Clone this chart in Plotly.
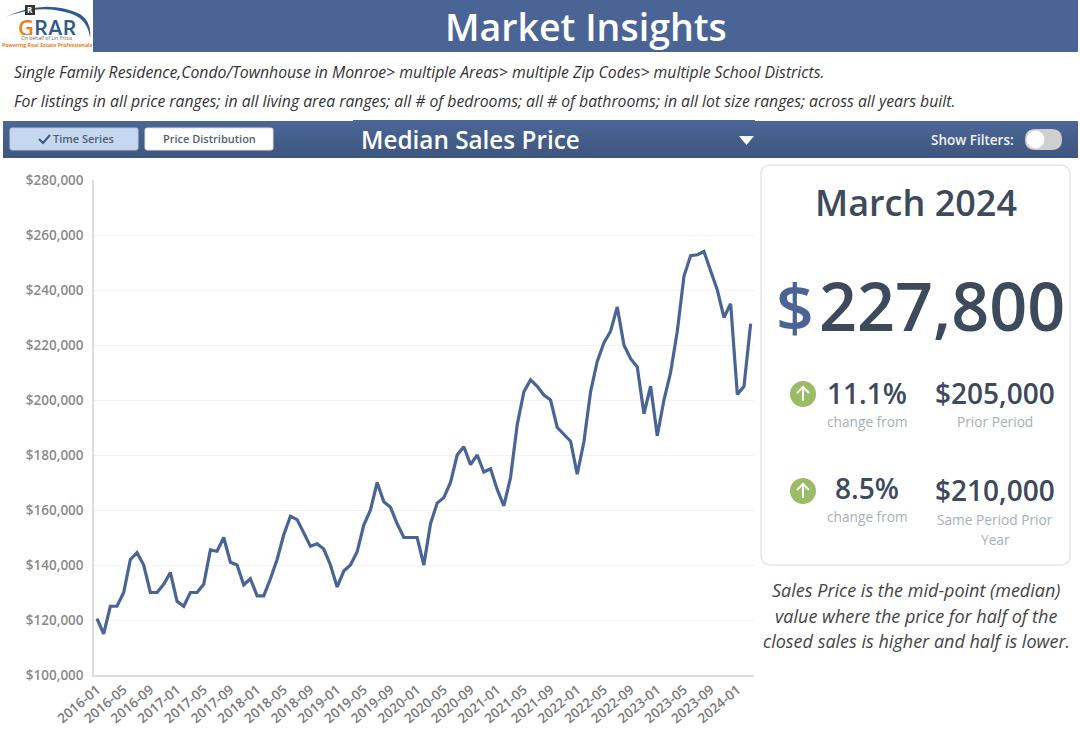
import plotly.graph_objects as go

W, H = 1080, 740

# ---------- data ----------
years_months = [f"{y}-{m:02d}" for y in range(2016, 2025) for m in range(1, 13)][:99]
median_price = [
    120500, 115000, 125000, 125000, 130000, 142000, 144500, 140000, 130000, 130000, 133000, 137300,
    126800, 125000, 130000, 130000, 133000, 145500, 145000, 150000, 141000, 140000, 132800, 135000,
    128800, 128800, 135000, 142000, 151000, 157700, 156500, 151800, 146800, 147700, 145800, 140000,
    132000, 137800, 140000, 144800, 154500, 160000, 170000, 163000, 161000, 155000, 150000, 150000,
    150000, 140000, 155000, 162500, 164500, 170000, 180000, 183000, 176500, 180000, 173800, 175000,
    167500, 161500, 171800, 191000, 203000, 207300, 205000, 201800, 200000, 190000, 187500, 185000,
    173000, 184800, 203000, 214000, 220800, 225000, 233800, 220000, 215000, 212000, 195000, 205000,
    187000, 200000, 210000, 225000, 245000, 252500, 252800, 254000, 247000, 240000, 230000, 235000,
    202000, 205000, 227800,
]
x_ticks = years_months[::4]
y_ticks = list(range(100000, 280001, 20000))

title_text = "Market Insights"
subtitle_1 = "Single Family Residence,Condo/Townhouse in Monroe> multiple Areas> multiple Zip Codes> multiple School Districts."
subtitle_2 = "For listings in all price ranges; in all living area ranges; all # of bedrooms; all # of bathrooms; in all lot size ranges; across all years built."
note_lines = ["Sales Price is the mid-point (median)", "value where the price for half of the", "closed sales is higher and half is lower."]

# ---------- style ----------
FONT = "Open Sans"
BLUE = "#4a6595"
DARK = "#3c4a5b"
GREY = "#a8afb8"
GREEN = "#9bbb66"


def X(p):
    return p / W


def Y(p):
    return 1 - p / H


shapes, anns = [], []


def rect(x0, y0, x1, y1, fill, line=None):
    shapes.append(dict(type="rect", xref="paper", yref="paper", x0=X(x0), x1=X(x1), y0=Y(y1), y1=Y(y0),
                       fillcolor=fill, line=dict(width=1 if line else 0, color=line or fill), layer="below"))


def rrect(x0, y0, x1, y1, r, fill, line=None, lw=1):
    path = (f"M {X(x0+r)} {Y(y0)} L {X(x1-r)} {Y(y0)} Q {X(x1)} {Y(y0)} {X(x1)} {Y(y0+r)} "
            f"L {X(x1)} {Y(y1-r)} Q {X(x1)} {Y(y1)} {X(x1-r)} {Y(y1)} "
            f"L {X(x0+r)} {Y(y1)} Q {X(x0)} {Y(y1)} {X(x0)} {Y(y1-r)} "
            f"L {X(x0)} {Y(y0+r)} Q {X(x0)} {Y(y0)} {X(x0+r)} {Y(y0)} Z")
    shapes.append(dict(type="path", xref="paper", yref="paper", path=path, fillcolor=fill,
                       line=dict(width=lw if line else 0, color=line or fill), layer="below"))


def poly(points, fill=None, line=None, lw=1, closed=False):
    path = "M " + " L ".join(f"{X(a)} {Y(b)}" for a, b in points) + (" Z" if closed else "")
    shapes.append(dict(type="path", xref="paper", yref="paper", path=path,
                       fillcolor=fill or "rgba(0,0,0,0)",
                       line=dict(width=lw if line else 0, color=line or "rgba(0,0,0,0)"), layer="above"))


def circle(cx, cy, r, fill):
    shapes.append(dict(type="circle", xref="paper", yref="paper", x0=X(cx - r), x1=X(cx + r),
                       y0=Y(cy + r), y1=Y(cy - r), fillcolor=fill, line=dict(width=0), layer="above"))


def text(x, y, s, size, color, anchor="center", style="normal", weight=400, height=None):
    a = dict(xref="paper", yref="paper", x=X(x), y=Y(y), text=s, showarrow=False,
             xanchor=anchor, yanchor="middle", align=anchor,
             font=dict(family=FONT, size=size, color=color, style=style, weight=weight))
    if height:
        a["height"] = height
    anns.append(a)


def gradient(x0, y0, x1, y1, top, bottom):
    n = y1 - y0
    for i in range(n):
        t = i / max(n - 1, 1)
        c = [round(a + (b - a) * t) for a, b in zip(top, bottom)]
        rect(x0, y0 + i, x1, y0 + i + 1, f"rgb({c[0]},{c[1]},{c[2]})")


# ---------- header ----------
rect(93, 0, 1078, 52, BLUE)
text(585.5, 26.5, title_text, 37.5, "#ffffff", weight=600)

# logo
shapes.append(dict(type="path", xref="paper", yref="paper",
                   path=f"M {X(6)} {Y(17)} Q {X(45)} {Y(-2)} {X(80)} {Y(14)} Q {X(92)} {Y(22)} {X(90)} {Y(38)} "
                        f"Q {X(88)} {Y(20)} {X(72)} {Y(14)} Q {X(40)} {Y(3)} {X(6)} {Y(17)} Z",
                   fillcolor="#2f5a8c", line=dict(width=0), layer="above"))
poly([(25, 5), (35, 5), (35, 15), (25, 15)], fill="#333333", closed=True)
text(30, 10, "R", 8, "#ffffff", weight=700, height=9)
text(47.5, 26.5, "<span style='color:#e8801f'>G</span>RAR", 22, "#2f5a8c", weight=600, height=16)
text(47, 38, "On behalf of Lin.Yrtsis", 5, "#666666", height=6)
text(47.5, 45, "Powering Real Estate Professionals", 5.2, "#e8801f", weight=700, height=6)

# subtitle lines
text(12, 72, subtitle_1, 15.77, "#333333", anchor="left", style="italic")
text(12, 101, subtitle_2, 15.77, "#333333", anchor="left", style="italic")

# ---------- toolbar ----------
gradient(3, 121, 1078, 158, (75, 103, 151), (62, 85, 126))
gradient(353, 120, 755, 158, (75, 103, 151), (62, 85, 126))
rrect(10, 128, 138, 150, 2, "#c5d8ef", line="#b9c7da")
rrect(145, 128, 273, 150, 2, "#ffffff", line="#e0e0e0")
poly([(39, 139), (43, 143), (50, 135)], line="#3f5680", lw=2)
text(83, 139, "Time Series", 11, "#4f5f75", weight=600)
text(209, 139, "Price Distribution", 11, "#4f5f75", weight=600)
text(359, 139.5, "Median Sales Price", 24.3, "#ffffff", anchor="left", weight=600)
poly([(739, 136), (754, 136), (746.5, 145)], fill="#ffffff", closed=True)
text(972.5, 140, "Show Filters:", 13.5, "#f2f2f2", weight=600)
rrect(1025, 129, 1062, 150, 10.5, "#cfcfcf")
circle(1035.5, 139.5, 9, "#ffffff")

# ---------- KPI card ----------
rrect(761, 165, 1070, 565, 10, "#ffffff", line="#e6e6e6", lw=1.5)
text(916, 203, "March 2024", 36, DARK, weight=600)
text(795, 305, "$", 66, BLUE, weight=600)
text(941.5, 305, "227,800", 66.5, DARK, weight=600)

circle(803, 394, 13, GREEN)
poly([(803, 401), (803, 387)], line="#ffffff", lw=2)
poly([(797, 393), (803, 387), (809, 393)], line="#ffffff", lw=2)
text(867, 393, "11.1%", 28, DARK, weight=600)
text(867, 422, "change from", 13.7, GREY)
text(995, 393, "$205,000", 28, DARK, weight=600)
text(995, 422, "Prior Period", 13.7, GREY)

circle(803, 491, 13, GREEN)
poly([(803, 498), (803, 484)], line="#ffffff", lw=2)
poly([(797, 490), (803, 484), (809, 490)], line="#ffffff", lw=2)
text(867, 488, "8.5%", 28, DARK, weight=600)
text(867, 516, "change from", 13.7, GREY)
text(995, 490, "$210,000", 28, DARK, weight=600)
text(995, 519, "Same Period Prior", 13.7, GREY)
text(995, 539, "Year", 13.7, GREY)

for yy, line in zip((590, 615.5, 641), note_lines):
    text(916, yy, line, 18, "#444444", style="italic")

# ---------- figure ----------
fig = go.Figure(go.Scatter(x=years_months, y=median_price, mode="lines",
                           line=dict(color=BLUE, width=3.2), hoverinfo="x+y"))

fig.update_layout(
    width=W, height=H, margin=dict(l=0, r=0, t=0, b=0),
    paper_bgcolor="#ffffff", plot_bgcolor="#ffffff", showlegend=False,
    font=dict(family=FONT), shapes=shapes, annotations=anns,
    xaxis=dict(domain=[X(94), X(754)], type="category", categoryorder="array", categoryarray=years_months,
               range=[-0.45, 98.5], tickmode="array", tickvals=x_ticks, ticktext=x_ticks, tickangle=-40,
               showgrid=False, showline=True, linecolor="#dcdcdc", linewidth=1.5, ticks="",
               tickfont=dict(family=FONT, size=13.5, color="#7a7a7a", weight=600), automargin=False),
    yaxis=dict(domain=[Y(675), Y(180)], range=[100000, 280000], tickmode="array", tickvals=y_ticks,
               ticktext=[f"${v:,}" for v in y_ticks], showgrid=True, gridcolor="#f3f3f3", gridwidth=1,
               zeroline=False, showline=True, linecolor="#dcdcdc", linewidth=1.5, ticks="", ticklabelstandoff=6,
               tickfont=dict(family=FONT, size=13.5, color="#8a8a8a", weight=600), automargin=False),
)

fig.write_html("out.html", post_script="document.body.style.margin='0';document.body.style.overflow='hidden';",
               config=dict(displayModeBar=False))
